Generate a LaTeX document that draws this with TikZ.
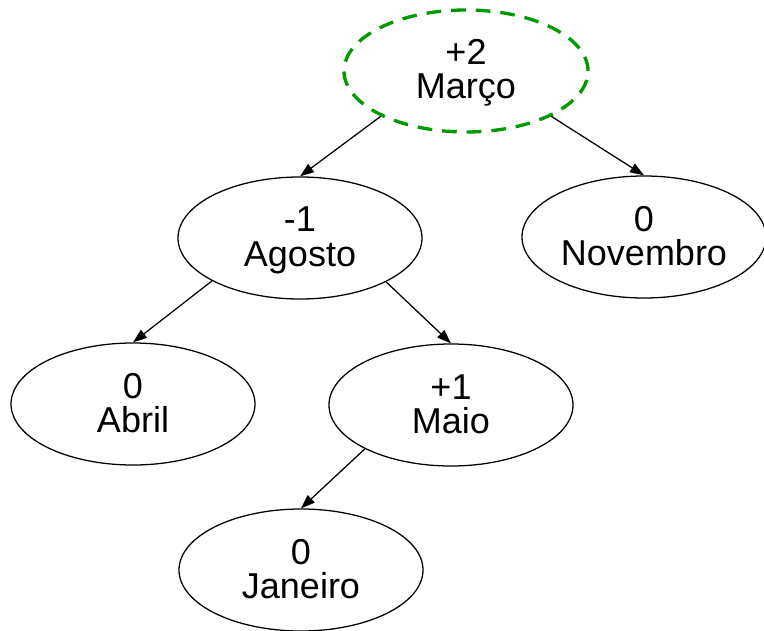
\documentclass[tikz,border=0pt]{standalone}
\usepackage{fontspec}
\setmainfont{Liberation Sans}
\usetikzlibrary{shapes.geometric,arrows.meta}
\definecolor{rootgreen}{RGB}{0,153,0}
% two centred lines with fixed extents, so every label sits alike
\newcommand{\twolines}[2]{\rule{0pt}{19.3pt}\smash{#1}\\\rule[-2.8pt]{0pt}{2.8pt}\smash{#2}}
\begin{document}
\begin{tikzpicture}[x=0.75pt,y=-0.75pt,
  treenode/.style={ellipse,draw=black,line width=0.95pt,minimum width=183pt,
    minimum height=91.5pt,inner sep=0pt,align=center,
    font=\fontsize{27}{25.5}\selectfont},
  rootnode/.style={treenode,draw=rootgreen,line width=2.5pt,
    dash pattern=on 11pt off 7.5pt},
  link/.style={draw=black,line width=0.95pt,
    -{Triangle[length=10.5pt,width=7.5pt]}}]
  \useasboundingbox (0,0) rectangle (764,631);

  % tree nodes: balance factor above, key below
  \node[rootnode] (marco)    at (466,71)  {\twolines{+2}{Março}};
  \node[treenode] (agosto)   at (300,238) {\twolines{-1}{Agosto}};
  \node[treenode] (novembro) at (644,237) {\twolines{0}{Novembro}};
  \node[treenode] (abril)    at (133,404) {\twolines{0}{Abril}};
  \node[treenode] (maio)     at (451,405) {\twolines{+1}{Maio}};
  \node[treenode] (janeiro)  at (301,570) {\twolines{0}{Janeiro}};

  % parent-to-child links
  \draw[link] (marco.208)  -- (agosto.north);
  \draw[link] (marco.332)  -- (novembro.north);
  \draw[link] (agosto.206) -- (abril.north);
  \draw[link] (agosto.333) -- (maio.north);
  \draw[link] (maio.207)   -- (janeiro.north);
\end{tikzpicture}
\end{document}
